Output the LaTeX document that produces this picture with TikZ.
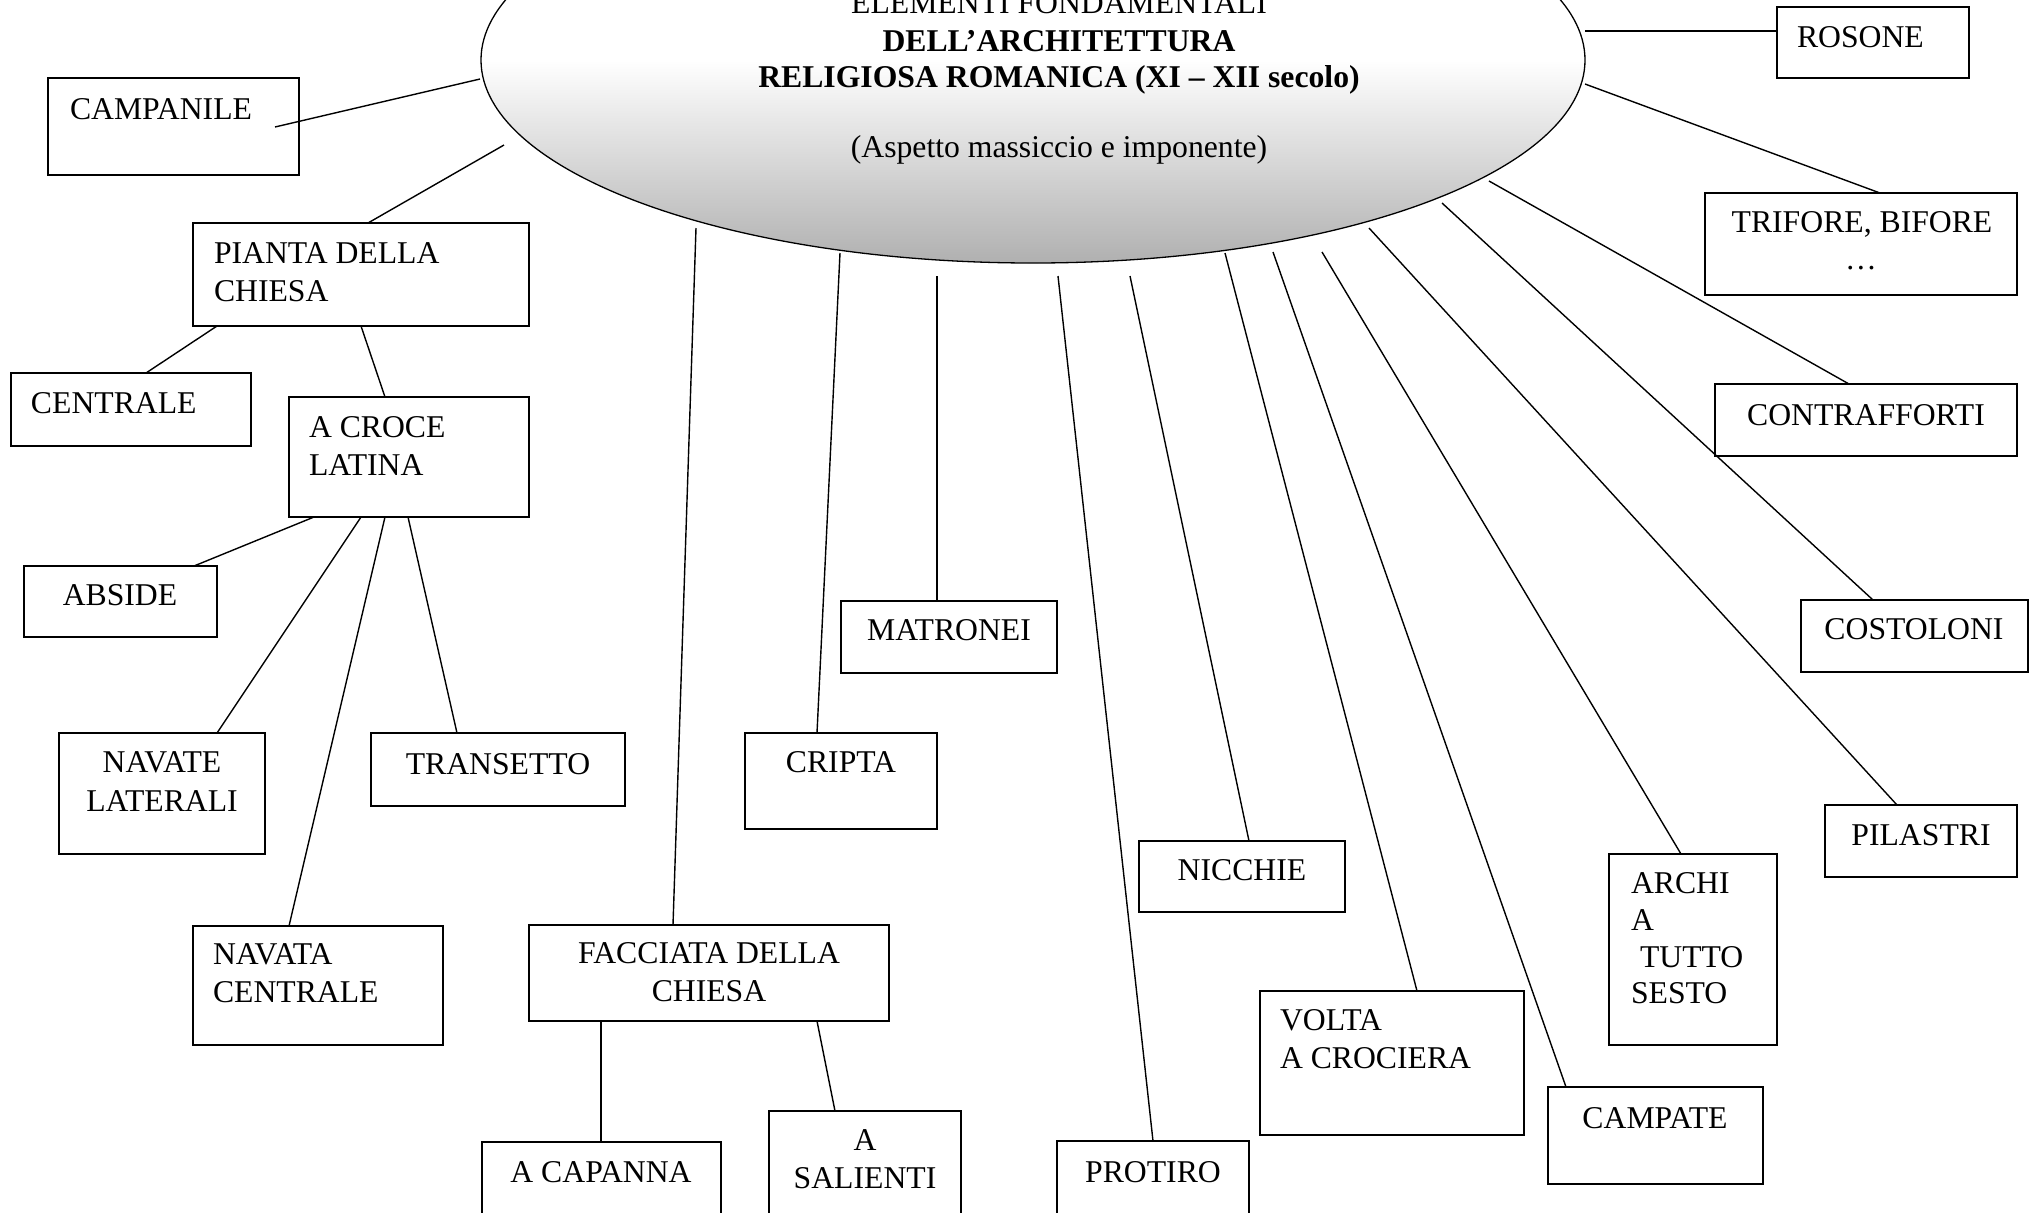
\documentclass[tikz,border=0pt]{standalone}
\usepackage{fontspec}
\setmainfont{Liberation Serif}
\usetikzlibrary{fit,calc,shapes.geometric}
\tikzset{
  box/.style={draw, rectangle, line width=0.85pt, inner sep=0pt, outer sep=0pt},
  lbl/.style={inner sep=0pt, outer sep=0pt, font=\fontsize{15.85pt}{18.6pt}\selectfont},
  lblL/.style={lbl, anchor=base west},
  lblC/.style={lbl, anchor=base},
  lblB/.style={lblC, font=\fontsize{15.85pt}{18.6pt}\selectfont\bfseries},
  link/.style={line width=0.7pt},
  core/.style={ellipse, draw, line width=0.65pt, top color=white,
    bottom color=black!31, middle color=white, minimum width=552pt, minimum height=203pt,
    inner sep=0pt, outer sep=0pt}
}
\begin{document}
\begin{tikzpicture}[x=0.5pt,y=-0.5pt]
\useasboundingbox (0,0) rectangle (2036,1212);
\fill[white] (0,0) rectangle (2036,1212);
\clip (0,0) rectangle (2036,1212);

% central ellipse with its title
\node[core] (core) at (1033,60) {};
\node[lblC] (t-a) at (1059,13) {ELEMENTI FONDAMENTALI};
\node[lblB] (t-b) at (1059,51) {DELL’ARCHITETTURA};
\node[lblB] (t-c) at (1059,87) {RELIGIOSA ROMANICA (XI – XII secolo)};
\node[lblC] (t-d) at (1059,157) {(Aspetto massiccio e imponente)};

% points where the connectors leave the ellipse
\coordinate (e-campanile) at (480,79);
\coordinate (e-pianta) at (504,145);
\coordinate (e-facciata) at (696,228);
\coordinate (e-cripta) at (840,253);
\coordinate (e-matronei) at (937,276);
\coordinate (e-protiro) at (1058,276);
\coordinate (e-nicchie) at (1130,276);
\coordinate (e-volta) at (1225,253);
\coordinate (e-campate) at (1273,252);
\coordinate (e-archi) at (1322,252);
\coordinate (e-pilastri) at (1369,228);
\coordinate (e-costoloni) at (1442,203);
\coordinate (e-contrafforti) at (1489,181);
\coordinate (e-trifore) at (1585,84);
\coordinate (e-rosone) at (1585,31);

% boxes
\node[box, fit={(48,78) (299,175)}] (campanile) {};
\node[box, fit={(193,223) (529,326)}] (pianta) {};
\node[box, fit={(11,373) (251,446)}] (centrale) {};
\node[box, fit={(289,397) (529,517)}] (croce) {};
\node[box, fit={(24,566) (217,637)}] (abside) {};
\node[box, fit={(59,733) (265,854)}] (navate) {};
\node[box, fit={(371,733) (625,806)}] (transetto) {};
\node[box, fit={(193,926) (443,1045)}] (navata) {};
\node[box, fit={(529,925) (889,1021)}] (facciata) {};
\node[box, fit={(482,1142) (721,1240)}] (capanna) {};
\node[box, fit={(769,1111) (961,1240)}] (salienti) {};
\node[box, fit={(745,733) (937,829)}] (cripta) {};
\node[box, fit={(841,601) (1057,673)}] (matronei) {};
\node[box, fit={(1057,1141) (1249,1240)}] (protiro) {};
\node[box, fit={(1139,841) (1345,912)}] (nicchie) {};
\node[box, fit={(1260,991) (1524,1135)}] (volta) {};
\node[box, fit={(1548,1087) (1763,1184)}] (campate) {};
\node[box, fit={(1609,854) (1777,1045)}] (archi) {};
\node[box, fit={(1825,805) (2017,877)}] (pilastri) {};
\node[box, fit={(1801,600) (2028,672)}] (costoloni) {};
\node[box, fit={(1715,384) (2017,456)}] (contrafforti) {};
\node[box, fit={(1705,193) (2017,295)}] (trifore) {};
\node[box, fit={(1777,7) (1969,78)}] (rosone) {};

% box texts
\node[lblL] (tx-campanile) at (70,119) {CAMPANILE};
\node[lblL] (tx-pianta1) at (214,263) {PIANTA DELLA};
\node[lblL] (tx-pianta2) at (214,301) {CHIESA};
\node[lblL] (tx-centrale) at (31,413) {CENTRALE};
\node[lblL] (tx-croce1) at (309,437) {A CROCE};
\node[lblL] (tx-croce2) at (309,475) {LATINA};
\node[lblC] (tx-abside) at (120,605) {ABSIDE};
\node[lblC] (tx-navate1) at (162,772) {NAVATE};
\node[lblC] (tx-navate2) at (162,811) {LATERALI};
\node[lblC] (tx-transetto) at (498,774) {TRANSETTO};
\node[lblL] (tx-navata1) at (213,964) {NAVATA};
\node[lblL] (tx-navata2) at (213,1002) {CENTRALE};
\node[lblC] (tx-facciata1) at (709,963) {FACCIATA DELLA};
\node[lblC] (tx-facciata2) at (709,1001) {CHIESA};
\node[lblC] (tx-capanna) at (601,1182) {A CAPANNA};
\node[lblC] (tx-salienti1) at (865,1150) {A};
\node[lblC] (tx-salienti2) at (865,1188) {SALIENTI};
\node[lblC] (tx-cripta) at (841,772) {CRIPTA};
\node[lblC] (tx-matronei) at (949,640) {MATRONEI};
\node[lblC] (tx-protiro) at (1153,1182) {PROTIRO};
\node[lblC] (tx-nicchie) at (1242,880) {NICCHIE};
\node[lblL] (tx-volta1) at (1280,1030) {VOLTA};
\node[lblL] (tx-volta2) at (1280,1068) {A CROCIERA};
\node[lblC] (tx-campate) at (1655,1128) {CAMPATE};
\node[lblL] (tx-archi1) at (1631,893) {ARCHI};
\node[lblL] (tx-archi2) at (1631,930) {A};
\node[lblL] (tx-archi3) at (1640,967) {TUTTO};
\node[lblL] (tx-archi4) at (1631,1003) {SESTO};
\node[lblC] (tx-pilastri) at (1921,845) {PILASTRI};
\node[lblC] (tx-costoloni) at (1914,639) {COSTOLONI};
\node[lblC] (tx-contrafforti) at (1866,425) {CONTRAFFORTI};
\node[lblC] (tx-trifore1) at (1862,232) {TRIFORE, BIFORE};
\node[lblC] (tx-trifore2) at (1861,269) {…};
\node[lblL] (tx-rosone) at (1797,47) {ROSONE};

% connectors
\draw[link] (e-campanile) -- ($(campanile.north west)+(227,49)$);
\draw[link] (e-pianta) -- ($(pianta.north west)+(175,0)$);
\draw[link] ($(pianta.south west)+(24,0)$) -- ($(centrale.north west)+(135,0)$);
\draw[link] ($(pianta.south west)+(168,0)$) -- ($(croce.north west)+(96,0)$);
\draw[link] ($(croce.south west)+(25,0)$) -- ($(abside.north west)+(170,0)$);
\draw[link] ($(croce.south west)+(72,0)$) -- ($(navate.north west)+(158,0)$);
\draw[link] ($(croce.south west)+(96,0)$) -- ($(navata.north west)+(96,0)$);
\draw[link] ($(croce.south west)+(119,0)$) -- ($(transetto.north west)+(86,0)$);
\draw[link] (e-facciata) -- ($(facciata.north west)+(144,0)$);
\draw[link] ($(facciata.south west)+(72,0)$) -- ($(capanna.north west)+(119,0)$);
\draw[link] ($(facciata.south west)+(288,0)$) -- ($(salienti.north west)+(66,0)$);
\draw[link] (e-cripta) -- ($(cripta.north west)+(72,0)$);
\draw[link] (e-matronei) -- ($(matronei.north west)+(96,0)$);
\draw[link] (e-protiro) -- ($(protiro.north west)+(96,0)$);
\draw[link] (e-nicchie) -- ($(nicchie.north west)+(110,0)$);
\draw[link] (e-volta) -- ($(volta.north west)+(157,0)$);
\draw[link] (e-campate) -- ($(campate.north west)+(18,0)$);
\draw[link] (e-archi) -- ($(archi.north west)+(72,0)$);
\draw[link] (e-pilastri) -- ($(pilastri.north west)+(72,0)$);
\draw[link] (e-costoloni) -- ($(costoloni.north west)+(72,0)$);
\draw[link] (e-contrafforti) -- ($(contrafforti.north west)+(134,0)$);
\draw[link] (e-trifore) -- ($(trifore.north west)+(175,0)$);
\draw[link] (e-rosone) -- ($(rosone.north west)+(0,24)$);
\end{tikzpicture}
\end{document}
